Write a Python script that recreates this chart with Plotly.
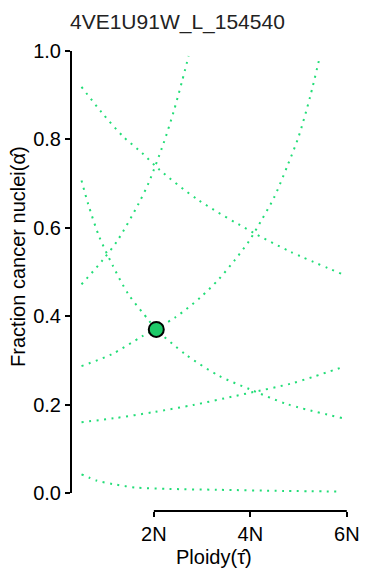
import plotly.graph_objects as go

# ---- data ----
ploidy_a = [0.5, 0.81, 1.15, 1.63, 2.31, 3.33, 4.69, 5.9]
frac_a = [0.042, 0.028, 0.020, 0.012, 0.009, 0.007, 0.0045, 0.003]

ploidy_b = [0.5, 1.18, 2.0, 2.82, 3.67, 4.01, 4.83, 5.31, 5.95]
frac_b = [0.160, 0.169, 0.183, 0.199, 0.219, 0.227, 0.247, 0.263, 0.286]

ploidy_c = [0.5, 0.92, 1.37, 1.76, 2.12, 2.92, 4.08, 4.83, 5.95]
frac_c = [0.919, 0.861, 0.806, 0.769, 0.731, 0.663, 0.588, 0.546, 0.493]

ploidy_d = [0.5, 0.94, 1.25, 1.68, 1.90, 2.20, 2.41, 2.59, 2.72]
frac_d = [0.472, 0.527, 0.572, 0.654, 0.704, 0.791, 0.863, 0.934, 0.989]

ploidy_e = [0.5, 0.64, 0.86, 1.15, 1.47, 1.90, 2.04, 2.65, 3.35, 3.98, 4.76, 5.92]
frac_e = [0.707, 0.653, 0.582, 0.514, 0.450, 0.390, 0.371, 0.314, 0.265, 0.235, 0.201, 0.169]

ploidy_f = [0.5, 1.13, 1.75, 2.44, 2.98, 3.34, 3.67, 3.98, 4.24, 4.49, 4.76, 5.0, 5.24, 5.44]
frac_f = [0.287, 0.314, 0.354, 0.397, 0.444, 0.483, 0.526, 0.571, 0.619, 0.668, 0.738, 0.806, 0.897, 0.987]

best_ploidy = [2.05]
best_frac = [0.370]

x_tickvals = [2, 4, 6]
x_ticktext = ["2N", "4N", "6N"]
y_tickvals = [0.0, 0.2, 0.4, 0.6, 0.8, 1.0]

title_text = "4VE1U91W_L_154540"
x_title = "Ploidy(τ̂)"
y_title = "Fraction cancer nuclei(α̂)"

LINE_COLOR = "#22dd77"
FONT = "Liberation Sans, Arial, sans-serif"

fig = go.Figure()
for xs, ys in [(ploidy_a, frac_a), (ploidy_b, frac_b), (ploidy_c, frac_c),
               (ploidy_d, frac_d), (ploidy_e, frac_e), (ploidy_f, frac_f)]:
    fig.add_trace(go.Scatter(
        x=xs, y=ys, mode="lines",
        line=dict(color=LINE_COLOR, width=2, dash="2px,5.5px", shape="spline", smoothing=0.8),
        showlegend=False, hoverinfo="skip"))

fig.add_trace(go.Scatter(
    x=best_ploidy, y=best_frac, mode="markers",
    marker=dict(size=15, color="#1dc968", line=dict(color="black", width=2)),
    showlegend=False))

# page body has an 8px default margin, so the figure is sized/shifted to compensate
fig.update_layout(
    width=362, height=571,
    margin=dict(l=63, r=11, t=25, b=68),
    paper_bgcolor="white", plot_bgcolor="white",
    font=dict(family=FONT, size=20, color="black"),
    xaxis=dict(range=[0.282, 6.17], showgrid=False, zeroline=False, showline=False,
               tickvals=x_tickvals, ticktext=x_ticktext, ticks="outside",
               ticklen=5, tickwidth=2, tickcolor="black",
               tickfont=dict(family=FONT, size=20, color="black")),
    yaxis=dict(range=[-0.041, 1.041], showgrid=False, zeroline=False, showline=False,
               tickvals=y_tickvals, tickformat=".1f", ticks="outside",
               ticklen=5, tickwidth=2, tickcolor="black",
               tickfont=dict(family=FONT, size=20, color="black")),
    shapes=[
        dict(type="line", xref="x", yref="paper", x0=x_tickvals[0], x1=x_tickvals[-1],
             y0=0, y1=0, line=dict(color="black", width=2)),
        dict(type="line", xref="paper", yref="y", x0=0, x1=0,
             y0=y_tickvals[0], y1=y_tickvals[-1], line=dict(color="black", width=2)),
    ],
    annotations=[
        dict(text=title_text, xref="paper", yref="paper", x=0.375, y=1.023,
             xanchor="center", yanchor="middle", showarrow=False,
             font=dict(family=FONT, size=21, color="#222")),
        dict(text=x_title, xref="paper", yref="paper", x=0.503, y=-0.096,
             xanchor="center", yanchor="middle", showarrow=False,
             font=dict(family=FONT, size=20, color="black")),
        dict(text=y_title, xref="paper", yref="paper", x=-0.186, y=0.532,
             xanchor="center", yanchor="middle", textangle=-90, showarrow=False,
             font=dict(family=FONT, size=20, color="black")),
    ],
)

fig.write_html("out.html")
